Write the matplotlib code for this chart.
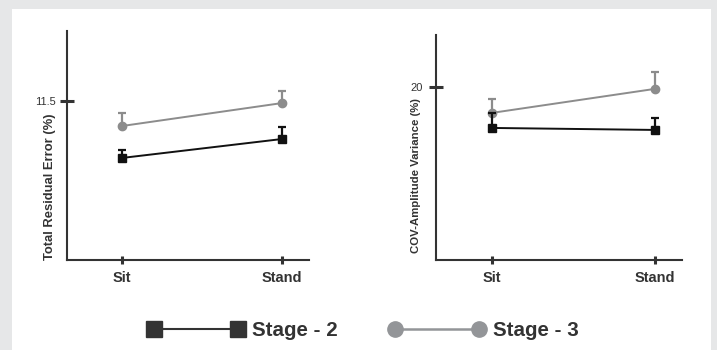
import matplotlib
matplotlib.use("Agg")
import matplotlib.pyplot as plt
from matplotlib.lines import Line2D
from matplotlib.patches import Rectangle

plt.rcParams['font.family'] = ['Liberation Sans', 'DejaVu Sans']

# conditions on the x axis
conditions = ['Sit', 'Stand']

# Total Residual Error (%)
tre_stage2 = [7.38, 8.75]
tre_stage2_err = [0.57, 0.87]
tre_stage3 = [9.69, 11.35]
tre_stage3_err = [0.94, 0.87]

# COV-Amplitude Variance (%)
cov_stage2 = [15.26, 15.03]
cov_stage2_err = [1.74, 1.37]
cov_stage3 = [17.0, 19.77]
cov_stage3_err = [1.6, 1.93]

panels = [
    ('Total Residual Error (%)', [11.5], ['11.5'], (0, 16.56),
     tre_stage2, tre_stage2_err, tre_stage3, tre_stage3_err),
    ('COV-Amplitude Variance (%)', [20], ['20'], (0, 26.0),
     cov_stage2, cov_stage2_err, cov_stage3, cov_stage3_err),
]

DARK = '#333333'
BLACK = '#111111'
GRAY = '#8c8c8c'
LEG_GRAY = '#939598'

W, H = 717, 350
fig = plt.figure(figsize=(W / 100, H / 100), dpi=100)
fig.patch.set_facecolor('#e6e7e8')
fig.add_artist(Rectangle((12 / W, 0), (711 - 12) / W, (H - 9) / H,
                         transform=fig.transFigure, facecolor='white',
                         edgecolor='none', zorder=0))

# axes boxes in pixels: left, right, top, bottom
boxes = [(67, 309, 31, 260), (436, 682, 35, 260)]
label_pos = [(-0.045, 0.321), (-0.063, 0.376)]
label_size = [9.4, 8.2]
ytick_pad = [3, 4]

for (ylab, yt, ytl, ylim, s2, e2, s3, e3), (l, r, t, b), lp, ls, yp in zip(
        panels, boxes, label_pos, label_size, ytick_pad):
    ax = fig.add_axes([l / W, (H - b) / H, (r - l) / W, (b - t) / H])
    ax.set_facecolor('none')
    x = list(range(len(conditions)))

    ax.errorbar(x, s3, yerr=[[0] * len(e3), e3], color=GRAY, lw=1.4,
                marker='o', ms=6, mec=GRAY, mfc=GRAY, ecolor=GRAY,
                elinewidth=1.6, capsize=3, capthick=1.6, zorder=3)
    ax.errorbar(x, s2, yerr=[[0] * len(e2), e2], color=BLACK, lw=1.4,
                marker='s', ms=6, mec=BLACK, mfc=BLACK, ecolor=BLACK,
                elinewidth=1.6, capsize=3, capthick=1.6, zorder=4)

    ax.set_xlim(-0.344, 1.168)
    ax.set_ylim(*ylim)
    for side in ['top', 'right']:
        ax.spines[side].set_visible(False)
    for side in ['left', 'bottom']:
        ax.spines[side].set_linewidth(1.5)
        ax.spines[side].set_color(DARK)

    ax.set_xticks(x)
    ax.set_xticklabels(conditions, fontsize=10.5, fontweight='bold', color=DARK)
    ax.tick_params(axis='x', direction='inout', length=6, width=2.2,
                   color=DARK, pad=5)
    ax.set_yticks(yt)
    ax.set_yticklabels(ytl, fontsize=8, color=DARK)
    ax.tick_params(axis='y', direction='inout', length=10.5, width=2.2,
                   color=DARK, pad=yp)
    ax.set_ylabel(ylab, fontsize=ls, fontweight='bold', color=DARK)
    ax.yaxis.set_label_coords(*lp)

handles = [
    Line2D([], [], color=DARK, lw=1.5, marker='s', ms=11.5, mfc=DARK, mec=DARK),
    Line2D([], [], color=LEG_GRAY, lw=1.8, marker='o', ms=11, mfc=LEG_GRAY, mec=LEG_GRAY),
]
fig.legend(handles, ['Stage - 2', 'Stage - 3'], loc='center left',
           bbox_to_anchor=(148 / W, 19 / H), ncol=2, numpoints=2,
           frameon=False, prop={'size': 14.8, 'weight': 'bold'},
           handlelength=4.68, handletextpad=0.4, columnspacing=2.47,
           borderpad=0, borderaxespad=0, labelcolor=DARK)

fig.savefig('out.png', dpi=100, facecolor=fig.get_facecolor())
